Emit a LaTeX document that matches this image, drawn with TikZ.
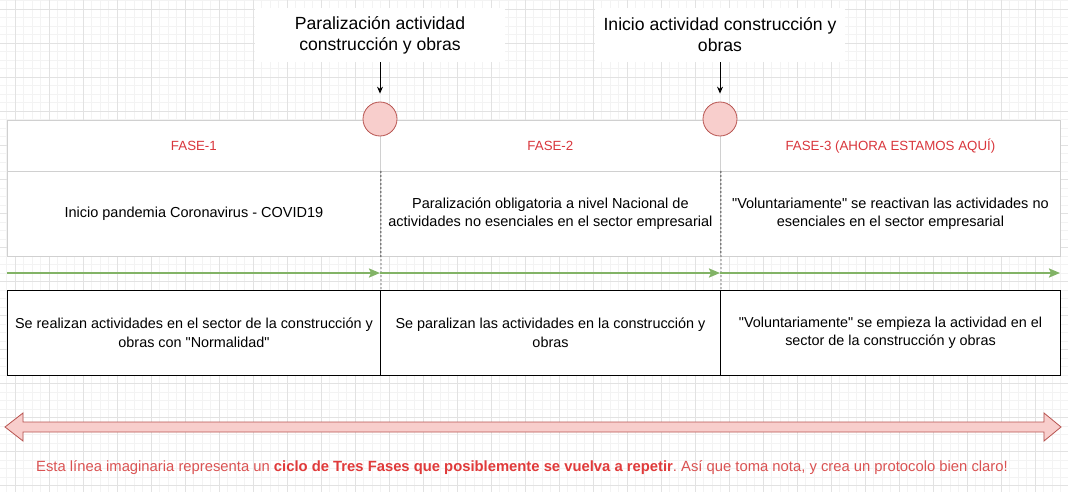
\documentclass[tikz,border=0pt]{standalone}
\usepackage{fontspec}
\setmainfont{Liberation Sans}
\newfontfamily\basefont{Liberation Sans}
\usetikzlibrary{arrows.meta}
\definecolor{gridminor}{RGB}{243,243,243}
\definecolor{gridmajor}{RGB}{226,226,226}
\definecolor{cellgray}{RGB}{208,208,208}
\definecolor{msfill}{HTML}{F8CECC}
\definecolor{msdraw}{HTML}{B85450}
\definecolor{tlgreen}{HTML}{82B366}
\definecolor{hdrred}{HTML}{D9363C}
\definecolor{notered}{HTML}{DA5252}
\definecolor{notebold}{HTML}{E03A3A}
\begin{document}
\basefont\frenchspacing
\begin{tikzpicture}[x=1pt,y=-1pt,
  hcell/.style={draw=cellgray, line width=0.8pt, fill=white, anchor=north west, minimum height=51pt, inner sep=0pt, text=hdrred, font=\basefont\fontsize{13.3}{15}\selectfont},
  bcell/.style={draw=cellgray, line width=0.8pt, fill=white, anchor=north west, minimum height=85pt, inner sep=0pt, align=center, font=\basefont\fontsize{14.5}{18.5}\selectfont},
  lcell/.style={draw=black, line width=1pt, fill=white, anchor=north west, minimum height=85pt, inner sep=0pt, align=center, font=\basefont\fontsize{14.4}{18.5}\selectfont},
  toplabel/.style={fill=white, align=center, inner sep=0pt, minimum width=250pt, minimum height=54pt, font=\basefont\fontsize{17.6}{21}\selectfont},
  milestone/.style={circle, draw=msdraw, fill=msfill, line width=0.8pt, minimum size=34pt, inner sep=0pt},
  downarrow/.style={draw=black, line width=1pt, -{Stealth[length=7pt,width=6pt]}, shorten >=8pt},
  greenarrow/.style={draw=tlgreen, line width=2pt, -{Stealth[length=11pt,width=9pt,inset=2pt]}},
  dashline/.style={draw=black!70, line width=0.9pt, dash pattern=on 2pt off 2pt}
]
\useasboundingbox (0,0) rectangle (1068,492);
\fill[white] (0,0) rectangle (1068,492);
% background grid
\foreach \i in {-1,...,124} { \draw[gridminor, line width=0.6pt] ({15+8.5*\i},0) -- ({15+8.5*\i},492); }
\foreach \i in {-1,...,58} { \draw[gridminor, line width=0.6pt] (0,{9.3+8.5*\i}) -- (1068,{9.3+8.5*\i}); }
\foreach \i in {0,...,31} { \draw[gridmajor, line width=0.6pt] ({15+34*\i},0) -- ({15+34*\i},492); }
\foreach \i in {0,...,14} { \draw[gridmajor, line width=0.6pt] (0,{9.3+34*\i}) -- (1068,{9.3+34*\i}); }

% upper table
\node[hcell, minimum width=373pt] (h1) at (7,120) {FASE-1};
\node[hcell, minimum width=340pt] (h2) at (380,120) {FASE-2};
\node[hcell, minimum width=340pt] (h3) at (720,120) {FASE-3 (AHORA ESTAMOS AQUÍ)};
\node[bcell, minimum width=373pt] (b1) at (7,171) {Inicio pandemia Coronavirus - COVID19};
\node[bcell, minimum width=340pt] (b2) at (380,171) {Paralización obligatoria a nivel Nacional de\\actividades no esenciales en el sector empresarial};
\node[bcell, minimum width=340pt] (b3) at (720,171) {"Voluntariamente" se reactivan las actividades no\\esenciales en el sector empresarial};

% lower table
\node[lcell, minimum width=373pt] (l1) at (7,290) {Se realizan actividades en el sector de la construcción y\\obras con "Normalidad"};
\node[lcell, minimum width=340pt] (l2) at (380,290) {Se paralizan las actividades en la construcción y\\obras};
\node[lcell, minimum width=340pt] (l3) at (720,290) {"Voluntariamente" se empieza la actividad en el\\sector de la construcción y obras};

% milestone dashed connectors
\draw[dashline] (b1.north east) -- (l1.north east);
\draw[dashline] (b2.north east) -- (l2.north east);

% milestones
\node[milestone] (c1) at (380,119) {};
\node[milestone] (c2) at (720,119) {};
\node[toplabel] (t1) at (380,35) {Paralización actividad\\construcción y obras};
\node[toplabel] (t2) at (720,35) {Inicio actividad construcción y\\obras};
\draw[downarrow] (t1) -- (c1);
\draw[downarrow] (t2) -- (c2);

% green timeline
\coordinate (g0) at (7,273);
\coordinate (g1) at (380,273);
\coordinate (g2) at (720,273);
\coordinate (g3) at (1060,273);
\draw[greenarrow] (g0) -- (g1);
\draw[greenarrow] (g1) -- (g2);
\draw[greenarrow] (g2) -- (g3);

% red double arrow
\draw[draw=msdraw, fill=msfill, line width=0.8pt, line join=miter]
  (5,427) -- (23,413) -- (23,422) -- (1044,422) -- (1044,413) -- (1061,427)
  -- (1044,441) -- (1044,432) -- (23,432) -- (23,441) -- cycle;

% bottom note
\node[text=notered, font=\basefont\fontsize{14.8}{18}\selectfont, inner sep=0pt] (note) at (522,468)
  {Esta línea imaginaria representa un \textbf{\color{notebold}ciclo de Tres Fases que posiblemente se vuelva a repetir}. Así que toma nota, y crea un protocolo bien claro!};
\end{tikzpicture}
\end{document}
